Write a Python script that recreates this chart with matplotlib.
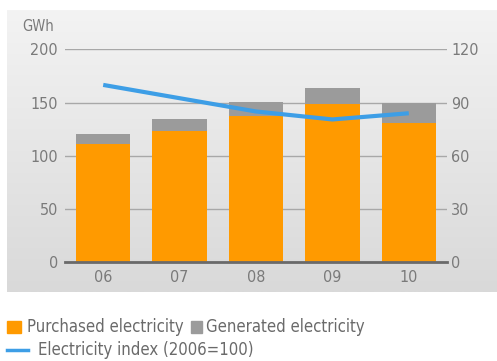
import numpy as np
import matplotlib
matplotlib.use('Agg')
from matplotlib import pyplot as plt
from matplotlib.patches import Rectangle
from matplotlib.lines import Line2D

years = ['06', '07', '08', '09', '10']
purchased = [111, 123, 137, 149, 131]
generated = [9, 12, 14, 15, 19]
index = [100, 92.5, 85, 80.5, 84]

orange = '#ff9a00'
grey = '#9b9b9b'
blue = '#3d9ee6'
txt = '#7a7a7a'

plt.rcParams['font.family'] = ['DejaVu Sans']
plt.rcParams['font.stretch'] = 'condensed'

W, H = 497, 361
fig = plt.figure(figsize=(W/100, H/100), dpi=100)
fig.patch.set_facecolor('white')

# gradient background panel
bg = fig.add_axes([7/W, (H-292)/H, 490/W, 282/H], zorder=0)
grad = np.linspace(0, 1, 256).reshape(-1, 1)
bg.imshow(grad, aspect='auto', cmap=matplotlib.colors.LinearSegmentedColormap.from_list('g', ['#f3f3f3', '#d9d9d9']),
          extent=[0, 1, 0, 1], origin='upper')
bg.axis('off')

ax = fig.add_axes([65/W, (H-262)/H, 382/W, 212.5/H], zorder=1)
ax.patch.set_alpha(0)
x = np.arange(len(years))
ax.bar(x, purchased, 0.71, color=orange, zorder=3)
ax.bar(x, generated, 0.71, bottom=purchased, color=grey, zorder=3)
ax.set_xlim(-0.5, 4.5)
ax.set_ylim(0, 200)
ax.set_yticks([0, 50, 100, 150, 200])
ax.yaxis.grid(True, color='#a8a8a8', linewidth=1)
ax.set_axisbelow(True)
for s in ['top', 'right', 'left']:
    ax.spines[s].set_visible(False)
ax.spines['bottom'].set_color('#6a6a6a')
ax.spines['bottom'].set_linewidth(2)
ax.spines['bottom'].set_zorder(4)
ax.set_xticks(x, years)
ax.tick_params(axis='both', length=0, colors=txt, labelsize=11.5)
ax.tick_params(axis='y', pad=5)
ax.tick_params(axis='x', pad=6)
ax.text(-0.112, 1.085, 'GWh', transform=ax.transAxes, color=txt, fontsize=10.5)

ax2 = ax.twinx()
ax2.plot(x, index, color=blue, linewidth=3, zorder=5, solid_capstyle='butt')
ax2.set_ylim(0, 120)
ax2.set_yticks([0, 30, 60, 90, 120])
for s in ['top', 'right', 'left', 'bottom']:
    ax2.spines[s].set_visible(False)
ax2.tick_params(axis='y', length=0, colors=txt, labelsize=11.5, pad=3)

# legend
fig.patches.append(Rectangle((7/W, (H-333)/H), 14/W, 12/H, transform=fig.transFigure, color=orange))
fig.text(27/W, (H-327)/H, 'Purchased electricity', color='#6a6a6a', fontsize=12, va='center')
fig.patches.append(Rectangle((191/W, (H-333)/H), 11/W, 12/H, transform=fig.transFigure, color=grey))
fig.text(206/W, (H-327)/H, 'Generated electricity', color='#6a6a6a', fontsize=12, va='center')
fig.lines.append(Line2D([7/W, 28/W], [(H-350)/H]*2, transform=fig.transFigure, color=blue, linewidth=2.5))
fig.text(38/W, (H-350)/H, 'Electricity index (2006=100)', color='#6a6a6a', fontsize=12, va='center')

fig.savefig('out.png', dpi=100)
